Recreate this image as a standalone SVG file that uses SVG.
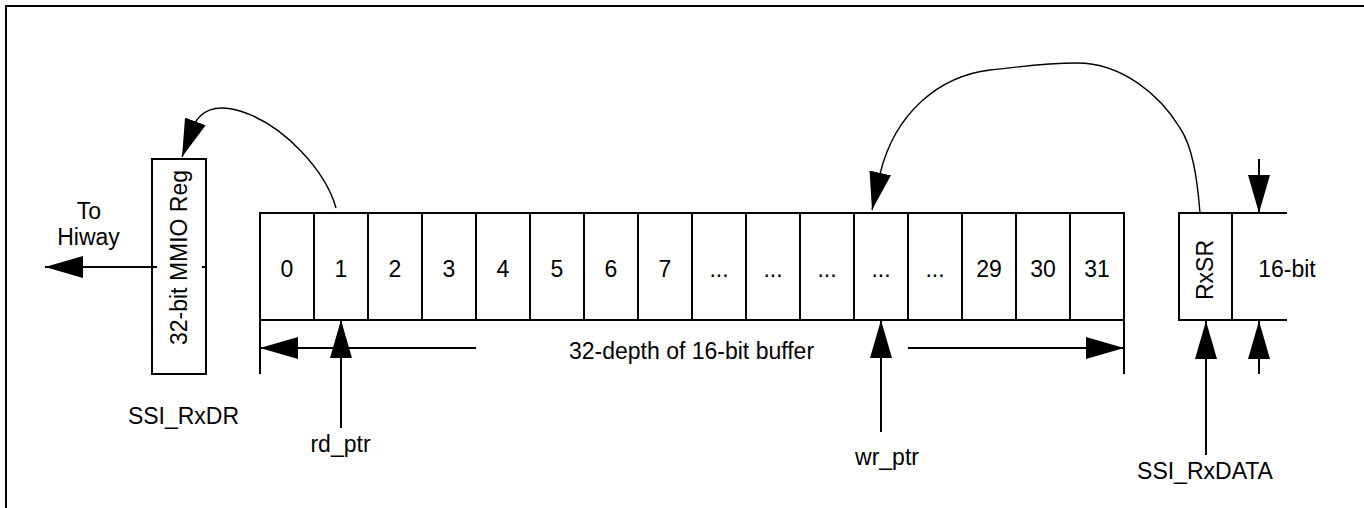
<svg xmlns="http://www.w3.org/2000/svg" width="1364" height="508" viewBox="0 0 1364 508">
<style>
.t{font-family:"Liberation Sans",Arial,sans-serif;font-size:23px;fill:#000}
.m{text-anchor:middle}
.box{fill:#fff;stroke:#000;stroke-width:2}
.ln{fill:none;stroke:#000;stroke-width:2}
.cv{fill:none;stroke:#000;stroke-width:1.4}
</style>
<defs>
<marker id="ah" viewBox="0 0 38 22" refX="38" refY="11" markerWidth="38" markerHeight="22" markerUnits="userSpaceOnUse" orient="auto">
<path d="M0,0 L38,11 L0,22 Z" fill="#000"/>
</marker>
</defs>
<rect width="1364" height="508" fill="#fff"/>
<path class="ln" d="M6 508 V6 H1364"/>

<g id="mmio">
<rect class="box" x="152" y="159" width="54" height="215"/>
<text class="t m" transform="translate(187 257.5) rotate(-90)">32-bit MMIO Reg</text>
</g>
<g id="to-hiway">
<text class="t m" x="89" y="219">To</text>
<text class="t m" x="88.5" y="245">Hiway</text>
</g>
<g id="ssi-rxdr"><text class="t m" x="183.5" y="424">SSI_RxDR</text></g>

<g id="buffer">
<rect class="box" x="260" y="213" width="864" height="107"/>
<path class="ln" d="M314 213V320M368 213V320M422 213V320M476 213V320M530 213V320M584 213V320M638 213V320M692 213V320M746 213V320M800 213V320M854 213V320M908 213V320M962 213V320M1016 213V320M1070 213V320"/>
<path class="ln" d="M260 320V374M1124 320V374"/>
<g class="t m">
<text x="287" y="277">0</text>
<text x="341" y="277">1</text>
<text x="395" y="277">2</text>
<text x="449" y="277">3</text>
<text x="503" y="277">4</text>
<text x="557" y="277">5</text>
<text x="611" y="277">6</text>
<text x="665" y="277">7</text>
<text x="719" y="277">...</text>
<text x="773" y="277">...</text>
<text x="827" y="277">...</text>
<text x="881" y="277">...</text>
<text x="935" y="277">...</text>
<text x="989" y="277">29</text>
<text x="1043" y="277">30</text>
<text x="1097" y="277">31</text>
</g>
<text class="t m" x="691.5" y="359">32-depth of 16-bit buffer</text>
</g>

<g id="rd-ptr"><text class="t m" x="340.5" y="452">rd_ptr</text></g>
<g id="wr-ptr"><text class="t m" x="887" y="465">wr_ptr</text></g>

<g id="rxsr">
<path class="ln" d="M1287 213H1179V320H1287M1232 213V320"/>
<text class="t m" transform="translate(1213 270) rotate(-90)">RxSR</text>
<text class="t m" x="1287" y="277">16-bit</text>
</g>
<g id="ssi-rxdata"><text class="t m" x="1205" y="479">SSI_RxDATA</text></g>

<g id="connectors">
<path class="ln" d="M157 267H45" marker-end="url(#ah)"/>
<path class="ln" d="M202 267H206"/>
<path class="ln" d="M476 348H260" marker-end="url(#ah)"/>
<path class="ln" d="M908 348H1124" marker-end="url(#ah)"/>
<path class="ln" d="M341 428V320" marker-end="url(#ah)"/>
<path class="ln" d="M881 432V320" marker-end="url(#ah)"/>
<path class="ln" d="M1206 455V321" marker-end="url(#ah)"/>
<path class="ln" d="M1259 374V321" marker-end="url(#ah)"/>
<path class="ln" d="M1259 159V213" marker-end="url(#ah)"/>
<path class="cv" d="M336 208 C326 172 285 125 240 111 C214 103 200 112 194 125 L182 157" marker-end="url(#ah)"/>
<path class="cv" d="M1200 213 C1197 175 1192 146 1180 128 C1160 95 1122 63 1077 63 C1040 63 1012 68 990 70 C940 76 895 112 880 174 L872 210" marker-end="url(#ah)"/>
</g>
</svg>
